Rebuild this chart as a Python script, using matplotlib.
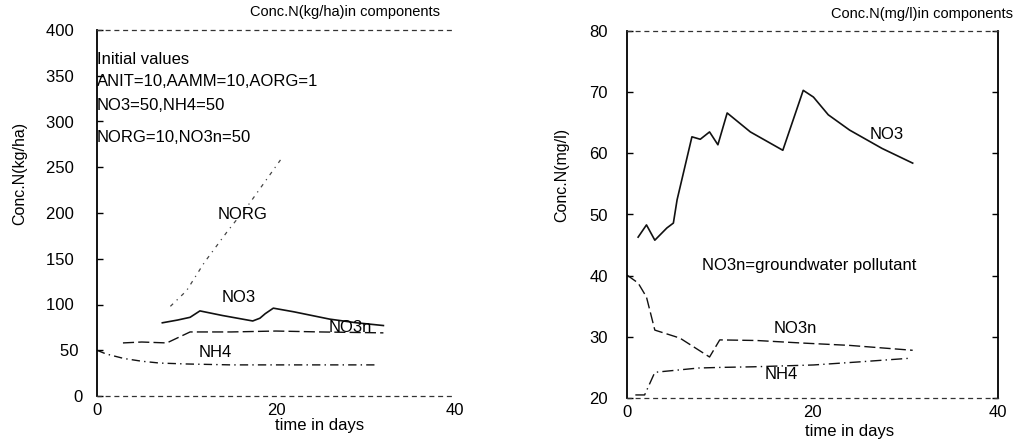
import matplotlib
matplotlib.use("Agg")
import matplotlib.pyplot as plt

plt.rcParams['font.family'] = ['Liberation Sans', 'DejaVu Sans']

# ---- data: left panel, kg/ha ----
days_nh4_l = [0, 1, 3, 5, 7, 10, 15, 20, 25, 31]
nh4_l = [50, 46, 41, 38, 36, 35, 34, 34, 34, 34]
days_no3n_l = [2.9, 5, 7.8, 10.4, 15, 20, 25, 32]
no3n_l = [58, 59, 58, 70, 70, 71, 70, 69]
days_no3_l = [7.3, 9, 10.4, 11.5, 14, 17.4, 18.2, 18.8, 19.7, 22, 26, 29, 32]
no3_l = [80, 83, 86, 93, 88, 82, 85, 90, 96, 92, 84, 80, 77]
days_norg_l = [8.2, 10, 12, 14.5, 17, 20.5]
norg_l = [98, 115, 146, 179, 210, 258]

# ---- data: right panel, mg/l ----
days_no3_r = [1.2, 2.1, 3.0, 4.3, 5.0, 5.4, 7.0, 7.9, 8.9, 9.8, 10.8, 13.3, 16.8, 19.0, 20.1, 21.7, 24.0, 27.5, 30.8]
no3_r = [46.3, 48.3, 45.8, 47.8, 48.6, 52.4, 62.7, 62.3, 63.5, 61.4, 66.6, 63.5, 60.5, 70.3, 69.2, 66.3, 63.8, 60.8, 58.4]
days_no3n_r = [0, 1.2, 2.1, 3.0, 5.7, 8.9, 10.0, 14, 18.7, 24, 30.8]
no3n_r = [40.1, 38.8, 36.5, 31.1, 29.8, 26.7, 29.5, 29.4, 29.0, 28.6, 27.8]
days_nh4_r = [0.9, 1.9, 3.0, 7.7, 10.0, 13.6, 20.1, 25, 30.5]
nh4_r = [20.5, 20.5, 24.2, 24.9, 25.0, 25.1, 25.4, 25.9, 26.5]

xticks = [0, 20, 40]
yticks_l = [0, 50, 100, 150, 200, 250, 300, 350, 400]
yticklabels_l = ['0', '50 ', '100  ', '150  ', '200  ', '250  ', '300  ', '350  ', '400  ']
yticks_r = [20, 30, 40, 50, 60, 70, 80]

W, H = 1019, 444
fig = plt.figure(figsize=(W / 100, H / 100), dpi=100)
axl = fig.add_axes([97/W, 1-396/H, 358/W, 366/H])
axr = fig.add_axes([627/W, 1-398/H, 371/W, 367/H])

def style(ax, right_spine, ypad):
    ax.spines['left'].set_linewidth(1.3)
    ax.spines['right'].set_visible(right_spine)
    ax.spines['right'].set_linewidth(1.3)
    for s in ['top', 'bottom']:
        ax.spines[s].set_linestyle((0, (3, 4)))
        ax.spines[s].set_linewidth(0.9)
        ax.spines[s].set_color('#333333')
    ax.tick_params(axis='y', direction='in', length=4, width=1, labelsize=12, pad=ypad,
                   right=right_spine)
    ax.tick_params(axis='x', length=0, labelsize=12, pad=5)
    ax.set_xlim(0, 40)
    ax.set_xticks(xticks)

k = '#111111'
# left panel
axl.plot(days_nh4_l, nh4_l, color=k, lw=1.0, ls=(0, (6, 3, 1, 3)))
axl.plot(days_no3n_l, no3n_l, color=k, lw=1.0, ls=(0, (8, 3)))
axl.plot(days_no3_l, no3_l, color=k, lw=1.2, ls='-')
axl.plot(days_norg_l, norg_l, color='#444444', lw=0.9, ls=(0, (3, 4, 1, 4)))
axl.set_ylim(0, 400)
axl.set_yticks(yticks_l)
axl.set_yticklabels(yticklabels_l)
style(axl, False, 10)
axl.text(0.0, 0.919, 'Initial values', transform=axl.transAxes, fontsize=12, va='center')
axl.text(0.0, 0.859, 'ANIT=10,AAMM=10,AORG=1', transform=axl.transAxes, fontsize=12, va='center')
axl.text(0.0, 0.794, 'NO3=50,NH4=50', transform=axl.transAxes, fontsize=12, va='center')
axl.text(0.0, 0.707, 'NORG=10,NO3n=50', transform=axl.transAxes, fontsize=12, va='center')
axl.text(16.3, 198, 'NORG', fontsize=12, ha='center', va='center')
axl.text(15.8, 108, 'NO3', fontsize=12, ha='center', va='center')
axl.text(28.3, 75, 'NO3n', fontsize=12, ha='center', va='center')
axl.text(13.2, 47, 'NH4', fontsize=12, ha='center', va='center')
fig.text(440/W, 1-12/H, 'Conc.N(kg/ha)in components', fontsize=10.5, ha='right', va='center')
fig.text(20/W, 1-173/H, 'Conc.N(kg/ha)', fontsize=11.5, rotation=90, ha='center', va='center')
fig.text(320/W, 1-425/H, 'time in days', fontsize=12, ha='center', va='center')

# right panel
axr.plot(days_no3_r, no3_r, color=k, lw=1.2, ls='-')
axr.plot(days_no3n_r, no3n_r, color=k, lw=1.0, ls=(0, (8, 3)))
axr.plot(days_nh4_r, nh4_r, color=k, lw=1.0, ls=(0, (8, 3, 1, 3)))
axr.set_ylim(20, 80)
axr.set_yticks(yticks_r)
style(axr, True, 13.7)
axr.text(28.0, 63.0, 'NO3', fontsize=12, ha='center', va='center')
axr.text(19.6, 41.6, 'NO3n=groundwater pollutant', fontsize=12, ha='center', va='center')
axr.text(18.2, 31.3, 'NO3n', fontsize=12, ha='center', va='center')
axr.text(16.6, 23.8, 'NH4', fontsize=12, ha='center', va='center')
fig.text(1013/W, 1-14/H, 'Conc.N(mg/l)in components', fontsize=10.5, ha='right', va='center')
fig.text(562/W, 1-175/H, 'Conc.N(mg/l)', fontsize=11.5, rotation=90, ha='center', va='center')
fig.text(850/W, 1-431/H, 'time in days', fontsize=12, ha='center', va='center')

fig.savefig('out.png', dpi=100)
